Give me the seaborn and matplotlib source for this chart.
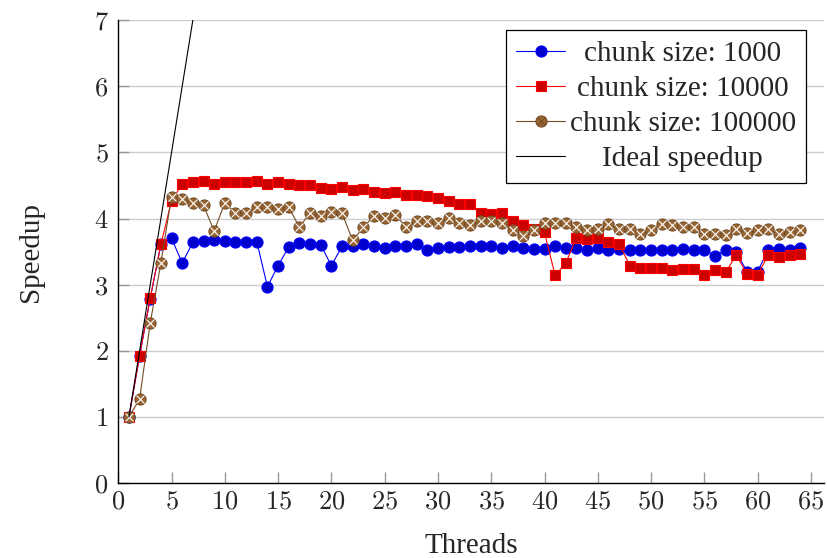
import numpy as np
import pandas as pd
import seaborn as sns
import matplotlib
matplotlib.use("Agg")
import matplotlib.pyplot as plt
from matplotlib.lines import Line2D
from matplotlib.legend_handler import HandlerTuple

threads = list(range(1, 65))
speedup_1000 = [1.00, 1.93, 2.79, 3.61, 3.70, 3.33, 3.64, 3.66, 3.67, 3.66,
                3.64, 3.65, 3.65, 2.97, 3.29, 3.57, 3.63, 3.62, 3.60, 3.29,
                3.58, 3.59, 3.61, 3.58, 3.56, 3.59, 3.59, 3.61, 3.53, 3.55,
                3.57, 3.57, 3.59, 3.58, 3.58, 3.55, 3.59, 3.56, 3.54, 3.54,
                3.58, 3.55, 3.55, 3.53, 3.56, 3.53, 3.54, 3.53, 3.53, 3.53,
                3.53, 3.53, 3.54, 3.52, 3.53, 3.44, 3.52, 3.49, 3.20, 3.20,
                3.53, 3.54, 3.53, 3.56]
speedup_10000 = [1.00, 1.92, 2.80, 3.61, 4.27, 4.52, 4.55, 4.57, 4.52, 4.55,
                 4.55, 4.55, 4.57, 4.52, 4.55, 4.52, 4.50, 4.50, 4.46, 4.45,
                 4.48, 4.43, 4.44, 4.40, 4.39, 4.40, 4.35, 4.36, 4.34, 4.31,
                 4.27, 4.22, 4.22, 4.09, 4.07, 4.09, 3.97, 3.90, 3.85, 3.79,
                 3.14, 3.33, 3.71, 3.69, 3.70, 3.65, 3.62, 3.29, 3.25, 3.26,
                 3.25, 3.23, 3.24, 3.24, 3.15, 3.23, 3.19, 3.45, 3.16, 3.15,
                 3.45, 3.42, 3.45, 3.47]
speedup_100000 = [1.00, 1.27, 2.42, 3.33, 4.33, 4.29, 4.23, 4.20, 3.81, 4.24,
                  4.08, 4.09, 4.17, 4.18, 4.15, 4.17, 3.87, 4.09, 4.04, 4.10,
                  4.08, 3.67, 3.87, 4.04, 4.01, 4.06, 3.87, 3.96, 3.96, 3.93,
                  4.01, 3.93, 3.90, 3.97, 3.97, 3.93, 3.83, 3.73, 3.83, 3.94,
                  3.94, 3.94, 3.87, 3.82, 3.84, 3.92, 3.84, 3.84, 3.77, 3.82,
                  3.92, 3.91, 3.88, 3.88, 3.76, 3.77, 3.75, 3.84, 3.78, 3.83,
                  3.85, 3.76, 3.80, 3.83]
ideal_threads = [1, 64]
ideal_speedup = [1, 64]

labels = ["chunk size: 1000", "chunk size: 10000", "chunk size: 100000", "Ideal speedup"]
x_ticks = list(range(0, 66, 5))
y_ticks = list(range(0, 8))

sns.set_theme(style="white")
plt.rcParams["font.family"] = ["Liberation Serif", "DejaVu Serif"]
plt.rcParams["axes.formatter.use_mathtext"] = True

BLUE, BLUE_F = "#0000FF", "#0000CC"
RED, RED_F = "#FF0000", "#CC0000"
BROWN, BROWN_F = "#734D26", "#996633"
FS = 21
TFS = 19

fig, ax = plt.subplots(figsize=(8.27, 5.58), dpi=100)
fig.subplots_adjust(left=0.143, right=0.996, top=0.964, bottom=0.134)

sns.lineplot(x=threads, y=speedup_1000, ax=ax, color=BLUE, lw=0.8, marker="o", ms=8,
             markerfacecolor=BLUE_F, markeredgecolor=BLUE, markeredgewidth=0.8, legend=False)
sns.lineplot(x=threads, y=speedup_10000, ax=ax, color=RED, lw=0.8, marker="s", ms=7.6,
             markerfacecolor=RED_F, markeredgecolor=RED, markeredgewidth=0.8, legend=False)
sns.lineplot(x=threads, y=speedup_100000, ax=ax, color=BROWN, lw=0.8, marker="o", ms=8,
             markerfacecolor=BROWN_F, markeredgecolor=BROWN, markeredgewidth=0.8, legend=False)
sns.lineplot(x=threads, y=speedup_100000, ax=ax, color=BROWN, lw=0, marker="x", ms=5.6,
             markeredgewidth=0.8, legend=False)
sns.lineplot(x=ideal_threads, y=ideal_speedup, ax=ax, color="black", lw=0.8, legend=False)

ax.set_xlim(0, 66.2)
ax.set_ylim(0, 7)
ax.set_xticks(x_ticks)
ax.set_yticks(y_ticks)
ax.yaxis.grid(True, color="#cccccc", lw=1.0)
ax.xaxis.grid(False)
for s in ["top", "right"]:
    ax.spines[s].set_visible(False)
for s in ["left", "bottom"]:
    ax.spines[s].set_color("black")
    ax.spines[s].set_linewidth(1.0)
ax.tick_params(axis="both", direction="in", length=8, width=1.0, color="#999999",
               bottom=True, left=True, labelsize=TFS)
ax.tick_params(axis="y", pad=7)
ax.tick_params(axis="x", pad=5)
for lab in ax.get_xticklabels() + ax.get_yticklabels():
    lab.set_fontfamily("cmr10")

ax.set_xlabel("Threads", fontsize=FS, labelpad=14)
ax.set_ylabel("Speedup", fontsize=FS, labelpad=36)

h1 = Line2D([], [], color=BLUE, lw=0.8, marker="o", ms=8, markerfacecolor=BLUE_F,
            markeredgecolor=BLUE, markeredgewidth=0.8)
h2 = Line2D([], [], color=RED, lw=0.8, marker="s", ms=7.6, markerfacecolor=RED_F,
            markeredgecolor=RED, markeredgewidth=0.8)
h3a = Line2D([], [], color=BROWN, lw=0.8, marker="o", ms=8, markerfacecolor=BROWN_F,
             markeredgecolor=BROWN, markeredgewidth=0.8)
h3b = Line2D([], [], color=BROWN, lw=0, marker="x", ms=5.6, markeredgewidth=0.8)
h4 = Line2D([], [], color="black", lw=0.8)
leg = ax.legend([h1, h2, (h3a, h3b), h4], labels, loc="upper right",
                bbox_to_anchor=(0.975, 0.978), fontsize=FS, frameon=True, fancybox=False,
                framealpha=1, edgecolor="black", handlelength=1.7, handletextpad=0.15,
                borderpad=0.35, labelspacing=0.3, borderaxespad=0,
                handler_map={tuple: HandlerTuple(ndivide=1)})
leg.get_frame().set_linewidth(0.9)

# center legend texts within the text column (like pgfplots)
fig.canvas.draw()
renderer = fig.canvas.get_renderer()
texts = leg.get_texts()
widths = [t.get_window_extent(renderer).width for t in texts]
maxw = max(widths)
for t, w in zip(texts, widths):
    t.set_x((maxw - w) / 2.0)

fig.savefig("out.png", dpi=100)
